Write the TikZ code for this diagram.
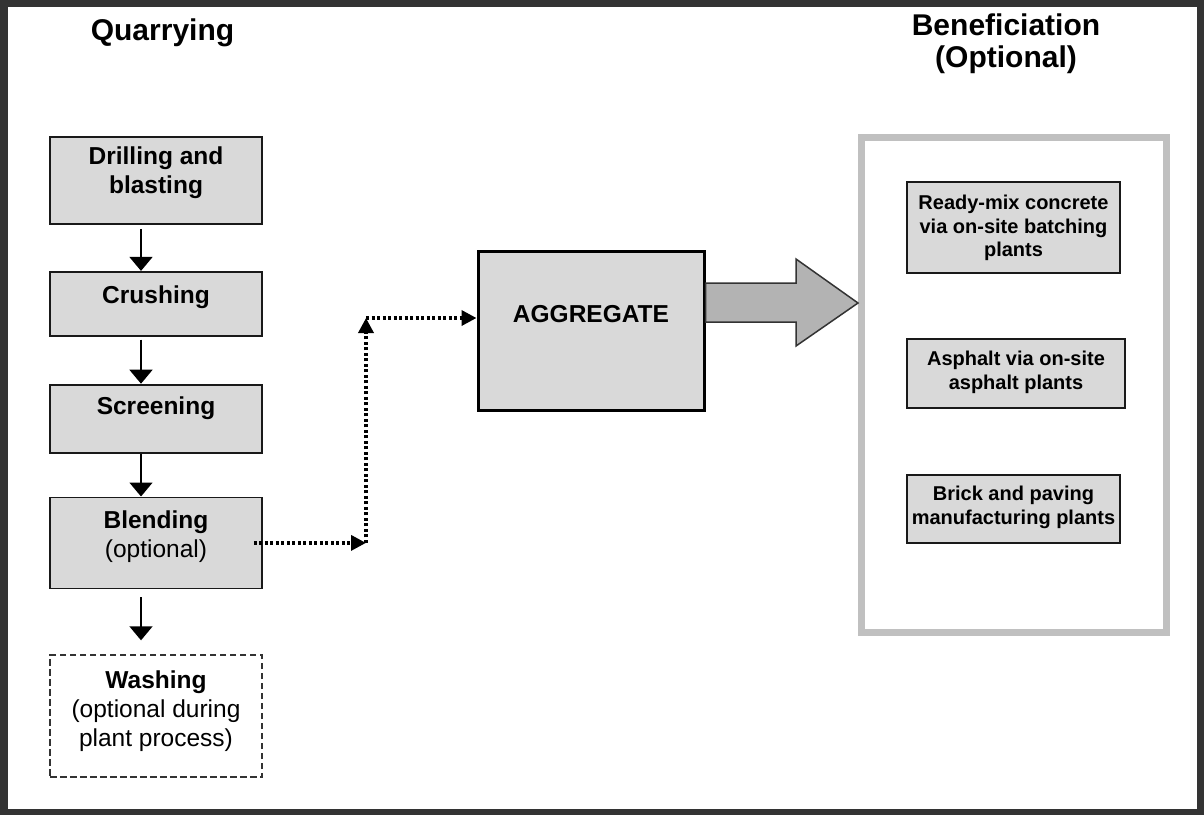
\documentclass[tikz,border=0pt]{standalone}
\usepackage{fontspec}
\setmainfont{Liberation Sans}
\usetikzlibrary{positioning,arrows.meta,calc}

\definecolor{boxgray}{RGB}{217,217,217}
\definecolor{framegray}{RGB}{192,192,192}
\definecolor{arrowgray}{RGB}{179,179,179}
\definecolor{edgegray}{RGB}{51,51,51}

\begin{document}
\begin{tikzpicture}[x=1pt,y=-1pt,
    stage/.style={draw=black!90,line width=1.8pt,fill=boxgray,minimum width=212pt,inner sep=0},
    boxtext/.style={inner sep=0,align=center,font=\fontsize{24.5}{29}\selectfont\bfseries},
    usetext/.style={inner sep=0,align=center,font=\fontsize{20}{23.5}\selectfont\bfseries},
    heading/.style={inner sep=0,align=center,font=\fontsize{30}{32}\selectfont\bfseries},
    flow/.style={-{Triangle[length=14pt,width=23pt]},line width=1.6pt},
    dotflow/.style={-{Triangle[length=15pt,width=15pt]},line width=3.5pt,dash pattern=on 3pt off 2.5pt}]
    \useasboundingbox (0,0) rectangle (1204,814);
    \draw[edgegray,line width=7pt] (4,3.5) rectangle (1200.5,812.5);

    % headings
    \node[heading,anchor=base] (quarry) at (162.5,40) {Quarrying};
    \node[heading,anchor=north] (benhead) at (1006,14) {Beneficiation\\(Optional)};

    % quarrying steps
    \node[stage,minimum height=87pt] (drill) at (156,180.5) {};
    \node[stage,minimum height=64pt] (crush) [below=46pt of drill] {};
    \node[stage,minimum height=68pt] (screen) [below=47pt of crush] {};
    \node[stage,minimum height=91pt] (blend) [below=43pt of screen] {};
    \node[stage,minimum height=122pt,fill=none,draw=edgegray,dash pattern=on 6.5pt off 3.5pt] (wash) [below=65pt of blend] {};

    \node[boxtext,anchor=north] (drilltext) at ([yshift=-10pt]drill.north) {Drilling and\\blasting};
    \node[boxtext,anchor=north] (crushtext) at ([yshift=-15pt]crush.north) {Crushing};
    \node[boxtext,anchor=north] (screentext) at ([yshift=-13pt]screen.north) {Screening};
    \node[boxtext,anchor=north] (blendtext) at ([yshift=-14pt]blend.north) {Blending\\\textmd{(optional)}};
    \node[boxtext,anchor=north] (washtext) at ([yshift=-16pt]wash.north) {Washing\\\textmd{(optional during}\\\textmd{plant process)}};

    \draw[flow] ([xshift=-15pt,yshift=-4pt]drill.south) -- ([xshift=-15pt]crush.north);
    \draw[flow] ([xshift=-15pt,yshift=-3pt]crush.south) -- ([xshift=-15pt]screen.north);
    \draw[flow] ([xshift=-15pt]screen.south) -- ([xshift=-15pt]blend.north);
    \draw[flow] ([xshift=-15pt,yshift=-8pt]blend.south) -- ([xshift=-15pt,yshift=14pt]wash.north);

    % aggregate
    \node[stage,line width=3pt,draw=black,minimum width=226pt,minimum height=159pt] (agg) at (591,330.5) {};
    \node[boxtext,anchor=north] (aggtext) at ([yshift=-56pt]agg.north) {AGGREGATE};

    \coordinate (lowturn) at (blend.east -| 366,0);
    \coordinate (highturn) at (366,318);
    \draw[dotflow] ([xshift=-9pt]blend.east) -- (lowturn);
    \draw[dotflow] (lowturn) -- (highturn);
    \draw[dotflow] (highturn) -- (highturn -| agg.west);

    % beneficiation
    \node[draw=framegray,line width=7pt,minimum width=304.5pt,minimum height=495pt,inner sep=0] (benef) at (1013.75,384.5) {};

    \node[stage,minimum width=213pt,minimum height=91pt] (readymix) at (1013.5,227.5) {};
    \node[stage,minimum width=218pt,minimum height=69pt] (asphalt) at (1016,373.5) {};
    \node[stage,minimum width=213pt,minimum height=68pt] (brick) at (1013.5,509) {};
    \node[usetext,anchor=north] (readymixtext) at ([yshift=-14pt]readymix.north) {Ready-mix concrete\\via on-site batching\\plants};
    \node[usetext,anchor=north] (asphalttext) at ([yshift=-13pt]asphalt.north) {Asphalt via on-site\\asphalt plants};
    \node[usetext,anchor=north] (bricktext) at ([yshift=-12pt]brick.north) {Brick and paving\\manufacturing plants};

    \draw[fill=arrowgray,draw=edgegray,line width=1.5pt] (agg.east |- 0,283) -- (796,283) -- (796,259)
        -- (benef.west |- 0,303) -- (796,346) -- (796,322) -- (agg.east |- 0,322) -- cycle;
\end{tikzpicture}
\end{document}
